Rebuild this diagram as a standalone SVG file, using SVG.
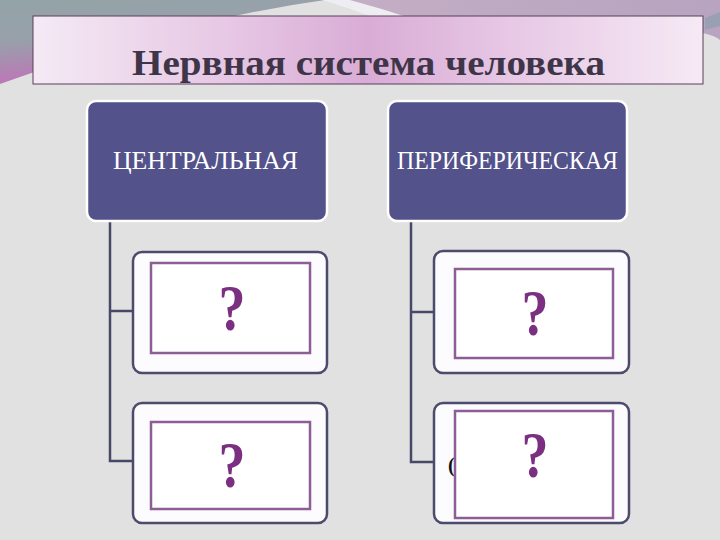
<svg xmlns="http://www.w3.org/2000/svg" width="720" height="540" viewBox="0 0 720 540">
<defs>
<linearGradient id="gl" x1="0" y1="0" x2="0.35" y2="1">
<stop offset="0" stop-color="#93a4a8"/>
<stop offset="0.45" stop-color="#98a0aa"/>
<stop offset="1" stop-color="#c66cbc"/>
</linearGradient>
<linearGradient id="gt" x1="0" y1="0" x2="1" y2="0">
<stop offset="0" stop-color="#f4eaf4"/>
<stop offset="0.3" stop-color="#e6c6e4"/>
<stop offset="0.5" stop-color="#d9acd6"/>
<stop offset="0.7" stop-color="#e6c6e4"/>
<stop offset="1" stop-color="#f6eaf5"/>
</linearGradient>
<linearGradient id="gr" x1="0" y1="0" x2="1" y2="0">
<stop offset="0" stop-color="#c3aec5"/>
<stop offset="1" stop-color="#b8a3c0"/>
</linearGradient>
<style>
.top{fill:#53528a;stroke:#ffffff;stroke-width:2.5}
.box{fill:#fcfbfe;stroke:#4d4b6b;stroke-width:2.5}
.inner{fill:#ffffff;stroke:#8c5e95;stroke-width:2.5}
.ttxt{font-family:"Liberation Serif","Times New Roman",serif;font-size:25px;fill:#ffffff}
.q{font-family:"Liberation Serif","Times New Roman",serif;font-size:66px;font-weight:bold;fill:#7a2f80;text-anchor:middle}
.conn{fill:none;stroke:#4a4868;stroke-width:2.5}
</style>
</defs>
<rect x="0" y="0" width="720" height="540" fill="#e1e1e1"/>
<g id="background">
<path d="M0,0 L325,0 Q180,20 0,84 Z" fill="url(#gl)"/>
<path d="M322,0 L350,0 Q380,8 410,18 L380,20 Q350,8 322,0 Z" fill="#eeeef2"/>
<path d="M350,0 L720,0 L720,40 Q700,20 410,18 Q380,8 350,0 Z" fill="url(#gr)"/>
<path d="M705,18 L720,12 L720,26 L705,30 Z" fill="#9aa0b4"/>
</g>
<g id="title">
<rect x="33" y="16" width="670" height="68" fill="url(#gt)" stroke="#5a3f5a" stroke-width="1"/>
<text x="132" y="75" textLength="473" lengthAdjust="spacingAndGlyphs" font-family="Liberation Serif, Times New Roman, serif" font-size="35" font-weight="bold" fill="#3f3548">Нервная система человека</text>
</g>
<g id="connectors">
<path class="conn" d="M110,221 V461 H134"/>
<path class="conn" d="M110,311 H134"/>
<path class="conn" d="M411,221 V462 H435"/>
<path class="conn" d="M411,312 H435"/>
</g>
<g id="node-central">
<rect class="top" x="87" y="101" width="240" height="120" rx="9"/>
<text class="ttxt" x="113" y="169" textLength="185" lengthAdjust="spacingAndGlyphs">ЦЕНТРАЛЬНАЯ</text>
</g>
<g id="node-peripheral">
<rect class="top" x="388" y="101" width="239" height="120" rx="9"/>
<text class="ttxt" x="397" y="169" textLength="221" lengthAdjust="spacingAndGlyphs">ПЕРИФЕРИЧЕСКАЯ</text>
</g>
<g id="node-c1">
<rect class="box" x="133" y="252" width="194" height="121" rx="9"/>
<rect class="inner" x="151" y="263" width="159" height="90"/>
<text class="q" x="232" y="330" textLength="27" lengthAdjust="spacingAndGlyphs">?</text>
</g>
<g id="node-c2">
<rect class="box" x="133" y="403" width="194" height="120" rx="9"/>
<rect class="inner" x="151" y="422" width="159" height="87"/>
<text class="q" x="232" y="487" textLength="27" lengthAdjust="spacingAndGlyphs">?</text>
</g>
<g id="node-p1">
<rect class="box" x="434" y="251" width="195" height="122" rx="9"/>
<rect class="inner" x="455" y="269" width="158" height="89"/>
<text class="q" x="535" y="335" textLength="27" lengthAdjust="spacingAndGlyphs">?</text>
</g>
<g id="node-p2">
<rect class="box" x="434" y="403" width="195" height="120" rx="9"/>
<text x="448" y="472" font-family="Liberation Serif, Times New Roman, serif" font-size="20" font-weight="bold" fill="#111111">(</text>
<rect class="inner" x="455" y="411" width="158" height="107"/>
<text class="q" x="535" y="477" textLength="27" lengthAdjust="spacingAndGlyphs">?</text>
</g>
</svg>
